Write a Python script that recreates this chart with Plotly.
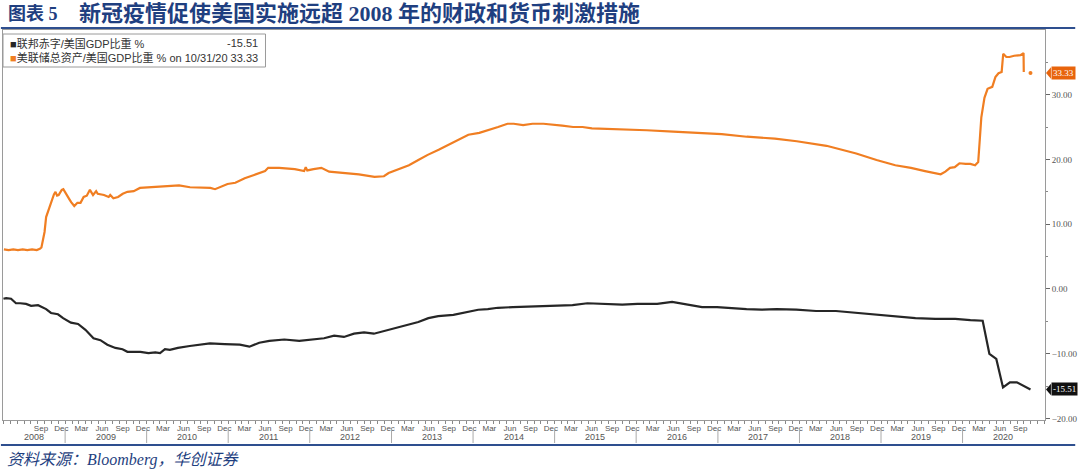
import plotly.graph_objects as go

# ---------------- data ----------------
# Fed total assets / US GDP (%)
fed_dates = [
    "2008-04-02", "2008-04-23", "2008-05-14", "2008-06-04", "2008-06-25", "2008-07-16",
    "2008-08-06", "2008-08-27", "2008-09-10", "2008-09-17", "2008-09-24", "2008-10-01",
    "2008-10-08", "2008-10-22", "2008-10-29", "2008-11-12", "2008-11-19", "2008-11-26",
    "2008-12-03", "2008-12-17", "2008-12-24", "2009-01-07", "2009-01-21", "2009-01-28",
    "2009-02-11", "2009-02-25", "2009-03-11", "2009-03-25", "2009-04-08", "2009-04-22",
    "2009-05-06", "2009-05-20", "2009-05-27", "2009-06-24", "2009-07-15", "2009-07-22",
    "2009-08-05", "2009-08-26", "2009-09-16", "2009-10-07", "2009-11-04", "2009-12-02",
    "2010-01-20", "2010-03-24", "2010-05-26", "2010-07-14", "2010-08-25", "2010-10-13",
    "2010-11-03", "2010-11-24", "2010-12-29", "2011-02-02", "2011-03-16", "2011-04-27",
    "2011-06-15", "2011-06-29", "2011-08-17", "2011-10-26", "2011-12-07", "2011-12-14",
    "2011-12-21", "2012-01-18", "2012-02-22", "2012-03-28", "2012-06-06", "2012-08-08",
    "2012-10-17", "2012-11-28", "2012-12-19", "2013-01-30", "2013-03-20", "2013-05-01",
    "2013-06-12", "2013-07-31", "2013-09-11", "2013-10-30", "2013-12-11", "2014-01-29",
    "2014-03-12", "2014-04-23", "2014-06-04", "2014-07-02", "2014-08-13", "2014-09-24",
    "2014-11-12", "2014-12-24", "2015-02-04", "2015-03-25", "2015-05-06", "2015-06-17",
    "2015-10-07", "2016-02-17", "2016-06-15", "2016-09-28", "2017-01-18", "2017-05-10",
    "2017-09-13", "2017-12-20", "2018-05-02", "2018-09-12", "2018-12-12", "2019-03-06",
    "2019-05-15", "2019-07-17", "2019-09-04", "2019-09-25", "2019-10-16", "2019-11-06",
    "2019-11-27", "2019-12-18", "2020-01-15", "2020-02-05", "2020-02-26", "2020-03-04",
    "2020-03-11", "2020-03-18", "2020-03-25", "2020-04-08", "2020-04-22", "2020-05-13",
    "2020-05-27", "2020-06-10", "2020-06-24", "2020-07-01", "2020-07-15", "2020-07-29",
    "2020-08-19", "2020-09-16", "2020-09-30", "2020-10-01", "2020-10-14", "2020-10-31",
]
fed_values = [
    6.1, 6.0, 6.1, 6.0, 6.1, 6.0,
    6.1, 6.0, 6.2, 6.4, 7.6, 8.8,
    11.1, 12.6, 13.4, 14.6, 15.0, 14.4,
    14.5, 15.3, 15.4, 14.7, 13.8, 13.4,
    12.8, 13.3, 13.3, 14.2, 14.4, 15.3,
    14.5, 15.1, 14.7, 14.5, 14.2, 14.5,
    14.0, 14.2, 14.7, 15.0, 15.1, 15.6,
    15.7, 15.9, 16.0, 15.7, 15.6, 15.6,
    15.4, 15.7, 16.2, 16.4, 17.1, 17.6,
    18.2, 18.7, 18.7, 18.5, 18.2, 18.8,
    18.3, 18.5, 18.7, 18.1, 17.9, 17.7,
    17.3, 17.4, 17.9, 18.4, 19.1, 19.9,
    20.7, 21.5, 22.2, 23.0, 23.8, 24.1,
    24.5, 25.0, 25.5, 25.5, 25.3, 25.5,
    25.5, 25.3, 25.2, 25.0, 25.0, 24.8,
    24.7, 24.5, 24.3, 24.1, 23.9, 23.5,
    23.2, 22.8, 22.1, 20.9, 19.9, 19.1,
    18.7, 18.2, 17.9, 17.7, 18.1, 18.7,
    18.8, 19.4, 19.3, 19.3, 19.1, 19.4,
    19.6, 23.0, 26.5, 29.5, 30.9, 31.2,
    32.7, 33.3, 33.5, 36.3, 35.8, 35.8,
    36.0, 36.1, 36.4, 33.5, None, 33.33,
]

# Federal deficit / US GDP (%)
def_dates = [
    "2008-03-31", "2008-04-12", "2008-05-04", "2008-05-26", "2008-06-14", "2008-07-10",
    "2008-08-02", "2008-09-02", "2008-10-08", "2008-10-30", "2008-11-30", "2008-12-23",
    "2009-01-27", "2009-02-28", "2009-04-02", "2009-05-08", "2009-06-08", "2009-07-09",
    "2009-08-14", "2009-09-15", "2009-10-07", "2009-12-04", "2010-01-09", "2010-02-09",
    "2010-03-02", "2010-03-24", "2010-04-15", "2010-05-21", "2010-07-13", "2010-08-27",
    "2010-10-11", "2010-12-16", "2011-02-22", "2011-04-06", "2011-05-20", "2011-07-04",
    "2011-09-09", "2011-11-15", "2012-01-21", "2012-03-05", "2012-04-19", "2012-06-02",
    "2012-07-17", "2012-08-31", "2012-10-14", "2012-11-28", "2013-02-03", "2013-03-17",
    "2013-05-01", "2013-06-15", "2013-07-29", "2013-10-05", "2013-11-19", "2014-01-24",
    "2014-03-08", "2014-04-22", "2014-06-28", "2014-09-04", "2014-11-09", "2015-01-15",
    "2015-03-22", "2015-05-28", "2015-08-25", "2015-10-31", "2016-01-07", "2016-04-04",
    "2016-06-10", "2016-08-16", "2016-10-22", "2016-12-28", "2017-03-03", "2017-05-09",
    "2017-07-15", "2017-09-21", "2017-12-18", "2018-03-16", "2018-06-13", "2018-09-11",
    "2018-12-09", "2019-03-07", "2019-06-04", "2019-09-01", "2019-11-29", "2020-02-05",
    "2020-03-31", "2020-04-30", "2020-05-31", "2020-06-30", "2020-07-31", "2020-08-31",
    "2020-09-30", "2020-10-31",
]
def_values = [
    -1.5, -1.4, -1.5, -2.2, -2.2, -2.3,
    -2.6, -2.5, -3.1, -3.7, -3.9, -4.5,
    -5.2, -5.4, -6.3, -7.6, -7.9, -8.6,
    -9.1, -9.3, -9.7, -9.7, -9.9, -9.8,
    -9.9, -9.3, -9.4, -9.1, -8.8, -8.6,
    -8.4, -8.5, -8.6, -8.9, -8.3, -8.0,
    -7.8, -8.0, -7.8, -7.6, -7.2, -7.4,
    -6.9, -6.7, -6.9, -6.5, -5.9, -5.6,
    -5.1, -4.5, -4.2, -4.0, -3.7, -3.2,
    -3.1, -2.9, -2.8, -2.7, -2.7, -2.6,
    -2.5, -2.2, -2.3, -2.4, -2.3, -2.3,
    -2.0, -2.4, -2.8, -2.8, -3.0, -3.1,
    -3.2, -3.1, -3.2, -3.4, -3.4, -3.7,
    -3.9, -4.2, -4.5, -4.6, -4.6, -4.8,
    -4.9, -10.0, -10.8, -15.2, -14.4, -14.4,
    -14.9, -15.51,
]

def_name = "联邦赤字/美国GDP比重 %"
fed_name = "美联储总资产/美国GDP比重 %"
last_date_label = "10/31/20"

years = list(range(2008, 2021))
quarter_months = ["Mar", "Jun", "Sep", "Dec"]
quarter_month_nums = [3, 6, 9, 12]
y_ticks = [-20, -10, 0, 10, 20, 30]

title_label = "图表 5"
title_text = "新冠疫情促使美国实施远超 2008 年的财政和货币刺激措施"
source_text = "资料来源：Bloomberg，华创证券"

# ---------------- colours / fonts ----------------
ORANGE = "#F07E22"
BLACK = "#262626"
BLUE = "#1F3F80"
CJK_SERIF = "Liberation Serif, Noto Sans CJK SC"
CJK_SANS = "Liberation Sans, Noto Sans CJK SC"

# month tick labels (mid-month positions)
tick_vals, tick_text = ["2008-05-04"], ["Mar ..."]
for y in years:
    for m, name in zip(quarter_month_nums, quarter_months):
        if y == 2008 and m < 9:
            continue
        if y == 2020 and m > 9:
            continue
        tick_vals.append(f"{y}-{m:02d}-15")
        tick_text.append(name)

fig = go.Figure()
fig.add_trace(go.Scatter(x=def_dates, y=def_values, mode="lines",
                         line=dict(color=BLACK, width=2.2), name=def_name,
                         connectgaps=False))
fig.add_trace(go.Scatter(x=fed_dates, y=fed_values, mode="lines",
                         line=dict(color=ORANGE, width=2.2), name=fed_name,
                         connectgaps=False))
fig.add_trace(go.Scatter(x=[fed_dates[-1]], y=[fed_values[-1]], mode="markers",
                         marker=dict(color=ORANGE, size=4), showlegend=False))

X_RANGE = ["2008-03-29", "2021-01-04"]

fig.update_layout(
    width=1080, height=473,
    margin=dict(l=2, r=30, t=30, b=53),
    paper_bgcolor="white", plot_bgcolor="white",
    showlegend=False,
    xaxis=dict(
        type="date", range=X_RANGE,
        tickmode="array", tickvals=tick_vals, ticktext=tick_text,
        ticks="", showgrid=False, zeroline=False,
        showline=True, linecolor="#9a9a9a", linewidth=1, mirror=True,
        tickfont=dict(family="Liberation Sans Narrow, Liberation Sans", size=8, color="#555"),
        ticklabelstandoff=0,
        minor=dict(ticks="outside", tick0="2008-01-01", dtick="M1",
                   ticklen=3, tickcolor="#888", showgrid=False),
    ),
    yaxis=dict(
        side="right", range=[-20.22, 39.97],
        tickmode="array", tickvals=y_ticks, tickformat=".2f",
        ticks="outside", ticklen=4, tickcolor="#666", tickwidth=1,
        showgrid=False, zeroline=False,
        showline=True, linecolor="#9a9a9a", linewidth=1, mirror=True,
        tickfont=dict(family="Liberation Serif", size=9, color="#555"),
        minor=dict(ticks="outside", dtick=5, tick0=0, ticklen=2, tickcolor="#888"),
    ),
)

annotations = []
shapes = []

# title & source
annotations.append(dict(xref="paper", yref="paper", x=3 / 1048, y=(420 - 14) / 390,
                        xanchor="left", yanchor="middle", showarrow=False,
                        text=f"<b>{title_label}</b>",
                        font=dict(family=CJK_SERIF, size=18, color=BLUE)))
annotations.append(dict(xref="paper", yref="paper", x=74 / 1048, y=(420 - 14) / 390,
                        xanchor="left", yanchor="middle", showarrow=False,
                        text=f"<b>{title_text}</b>",
                        font=dict(family=CJK_SERIF, size=22, color=BLUE)))
annotations.append(dict(xref="paper", yref="paper", x=0.002, y=(420 - 460) / 390,
                        xanchor="left", yanchor="middle", showarrow=False,
                        text=f"<i>{source_text}</i>",
                        font=dict(family=CJK_SERIF, size=16, color=BLUE)))
# rules
shapes.append(dict(type="line", xref="paper", yref="paper", x0=-0.002, x1=1.029,
                   y0=(420 - 28) / 390, y1=(420 - 28) / 390,
                   line=dict(color="#2E4F8F", width=2)))
shapes.append(dict(type="line", xref="paper", yref="paper", x0=-0.002, x1=1.029,
                   y0=(420 - 445) / 390, y1=(420 - 445) / 390,
                   line=dict(color="#2E4F8F", width=2)))

# year labels and dividers
for y in years:
    center = f"{y}-08-15" if y == 2008 else f"{y}-07-01"
    annotations.append(dict(xref="x", yref="paper", x=center, y=(420 - 437) / 390,
                            xanchor="center", yanchor="middle", showarrow=False,
                            text=str(y),
                            font=dict(family="Liberation Sans Narrow, Liberation Sans",
                                      size=9, color="#555")))
    if y > 2008:
        shapes.append(dict(type="line", xref="x", yref="paper",
                           x0=f"{y}-01-01", x1=f"{y}-01-01",
                           y0=(420 - 429) / 390, y1=(420 - 443) / 390,
                           line=dict(color="#aaa", width=1)))

# legend box
shapes.append(dict(type="rect", xref="paper", yref="paper",
                   x0=0.0, x1=264 / 1048, y0=(420 - 67) / 390, y1=(420 - 34) / 390,
                   line=dict(color="#9a9a9a", width=1), fillcolor="white"))
annotations.append(dict(xref="paper", yref="paper", x=5 / 1048, y=(420 - 43) / 390,
                        xanchor="left", yanchor="middle", showarrow=False,
                        text=f"<span style='color:{BLACK}'>■</span>{def_name}",
                        font=dict(family=CJK_SANS, size=11, color="#333")))
annotations.append(dict(xref="paper", yref="paper", x=258 / 1048, y=(420 - 43) / 390,
                        xanchor="right", yanchor="middle", showarrow=False,
                        text=f"{def_values[-1]:.2f}",
                        font=dict(family=CJK_SANS, size=11, color="#333")))
annotations.append(dict(xref="paper", yref="paper", x=5 / 1048, y=(420 - 58) / 390,
                        xanchor="left", yanchor="middle", showarrow=False,
                        text=f"<span style='color:{ORANGE}'>■</span>{fed_name} on {last_date_label} {fed_values[-1]:.2f}",
                        font=dict(family=CJK_SANS, size=11, color="#333")))

# last value tags on the right axis
for val, col in [(fed_values[-1], "#E8640C"), (def_values[-1], "#111111")]:
    annotations.append(dict(xref="paper", yref="y", x=1.0 + 6 / 1048, y=val,
                            xanchor="left", yanchor="middle", showarrow=False,
                            text=f"{val:.2f}", bgcolor=col, borderpad=1,
                            font=dict(family="Liberation Serif", size=9, color="white")))
    shapes.append(dict(type="path", xref="paper", yref="y",
                       path=f"M {1.0 + 1/1048},{val} L {1.0 + 6/1048},{val + 0.9} L {1.0 + 6/1048},{val - 0.9} Z",
                       fillcolor=col, line=dict(width=0)))

fig.update_layout(annotations=annotations, shapes=shapes)
fig.write_html("out.html")
